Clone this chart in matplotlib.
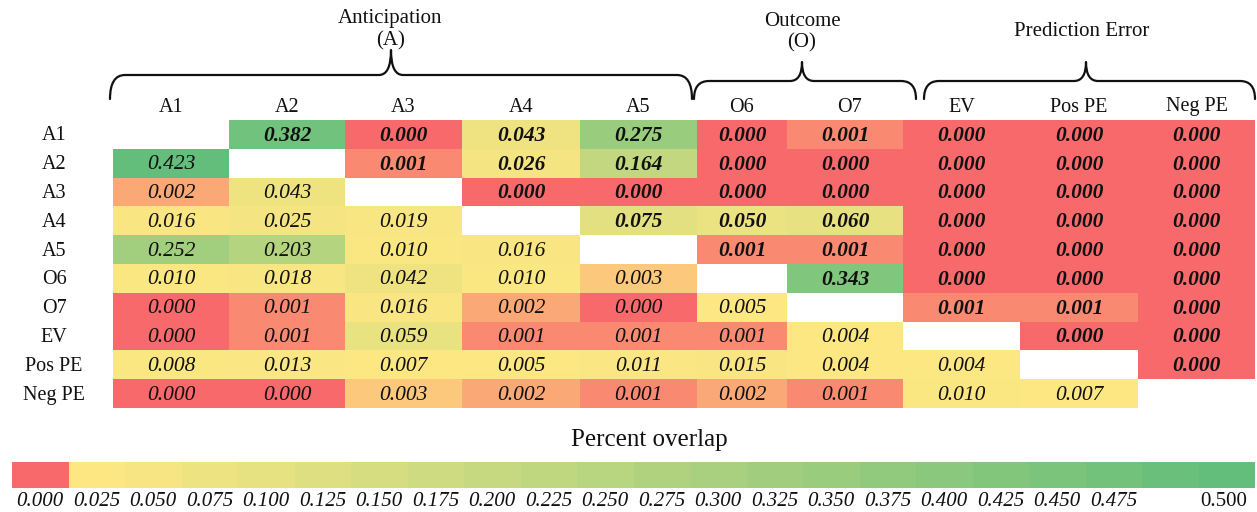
import numpy as np
import matplotlib
matplotlib.use("Agg")
import matplotlib.pyplot as plt
from matplotlib.colors import LinearSegmentedColormap, TwoSlopeNorm
from matplotlib.path import Path
from matplotlib.patches import PathPatch

# ---------------- data ----------------
labels = ["A1", "A2", "A3", "A4", "A5", "O6", "O7", "EV", "Pos PE", "Neg PE"]
nan = np.nan
overlap = np.array([
    [nan, 0.382, 0.000, 0.043, 0.275, 0.000, 0.001, 0.000, 0.000, 0.000],
    [0.423, nan, 0.001, 0.026, 0.164, 0.000, 0.000, 0.000, 0.000, 0.000],
    [0.002, 0.043, nan, 0.000, 0.000, 0.000, 0.000, 0.000, 0.000, 0.000],
    [0.016, 0.025, 0.019, nan, 0.075, 0.050, 0.060, 0.000, 0.000, 0.000],
    [0.252, 0.203, 0.010, 0.016, nan, 0.001, 0.001, 0.000, 0.000, 0.000],
    [0.010, 0.018, 0.042, 0.010, 0.003, nan, 0.343, 0.000, 0.000, 0.000],
    [0.000, 0.001, 0.016, 0.002, 0.000, 0.005, nan, 0.001, 0.001, 0.000],
    [0.000, 0.001, 0.059, 0.001, 0.001, 0.001, 0.004, nan, 0.000, 0.000],
    [0.008, 0.013, 0.007, 0.005, 0.011, 0.015, 0.004, 0.004, nan, 0.000],
    [0.000, 0.000, 0.003, 0.002, 0.001, 0.002, 0.001, 0.010, 0.007, nan],
])
group_names = ["Anticipation", "Outcome", "Prediction Error"]
group_abbr = ["(A)", "(O)", ""]
cb_labels = ["0.000", "0.025", "0.050", "0.075", "0.100", "0.125", "0.150",
             "0.175", "0.200", "0.225", "0.250", "0.275", "0.300", "0.325",
             "0.350", "0.375", "0.400", "0.425", "0.450", "0.475", "", "0.500"]
cb_title = "Percent overlap"

# ---------------- style ----------------
RED, YEL, GRN = "#F8696B", "#FDE782", "#63BE7B"
cmap = LinearSegmentedColormap.from_list("ryg", [RED, YEL, GRN])
cmap.set_bad("white")
norm = TwoSlopeNorm(vmin=0.0, vcenter=0.004, vmax=0.423)
yg = LinearSegmentedColormap.from_list("yg", [YEL, GRN])

plt.rcParams["font.family"] = ["Liberation Serif", "DejaVu Serif"]

W, H = 1257, 512
fig = plt.figure(figsize=(W / 100, H / 100), dpi=100)

def fx(px):
    return px / W

def fy(py):
    return 1 - py / H

# heatmap axes (pixel layout)
hm_left, hm_right, hm_top, hm_bot = 113, 1255, 120, 408
ax = fig.add_axes([fx(hm_left), fy(hm_bot), fx(hm_right - hm_left), (hm_bot - hm_top) / H])
col_w = np.array([116, 116, 117, 118, 117, 90, 116, 117, 118, 117], dtype=float)
xe = np.concatenate([[0], np.cumsum(col_w)])
ye = np.arange(len(labels) + 1)
ax.pcolormesh(xe, ye, np.ma.masked_invalid(overlap), cmap=cmap, norm=norm, shading="flat")
ax.set_xlim(xe[0], xe[-1])
ax.set_ylim(len(labels), 0)
ax.axis("off")
xc = (xe[:-1] + xe[1:]) / 2
n = len(labels)
for i in range(n):
    for j in range(n):
        v = overlap[i, j]
        if np.isnan(v):
            continue
        ax.text(xc[j], i + 0.55, f"{v:.3f}", ha="center", va="center",
                fontsize=15.5, style="italic",
                fontweight="bold" if j > i else "normal", color="#111111")
row_px = (hm_bot - hm_top) / n
for i, lab in enumerate(labels):
    ax.text(54 - hm_left, i + 0.55, lab, ha="center", va="center", fontsize=14.5,
            color="#111111", clip_on=False)
    ax.text(xc[i] + (5 if lab == "O7" else 0), -13 / row_px, lab, ha="center",
            va="center", fontsize=14.5, color="#111111", clip_on=False)

# overlay axes in pixel coordinates for braces
ov = fig.add_axes([0, 0, 1, 1])
ov.set_xlim(0, W)
ov.set_ylim(H, 0)
ov.axis("off")

def brace(x0, x1, xm, y_end, y_h, y_tip, r=15, rt=12):
    verts = [(x0, y_end), (x0, y_h), (x0 + r, y_h),
             (xm - rt, y_h),
             (xm, y_h), (xm, y_tip),
             (xm, y_h), (xm + rt, y_h),
             (x1 - r, y_h),
             (x1, y_h), (x1, y_end)]
    codes = [Path.MOVETO, Path.CURVE3, Path.CURVE3,
             Path.LINETO,
             Path.CURVE3, Path.CURVE3,
             Path.CURVE3, Path.CURVE3,
             Path.LINETO,
             Path.CURVE3, Path.CURVE3]
    ov.add_patch(PathPatch(Path(verts, codes), fill=False, lw=1.6, color="#111111",
                           capstyle="round", joinstyle="round"))

brace(110, 692, 391, 99, 75, 50)
brace(694, 916, 802, 99, 81, 62)
brace(924, 1255, 1086, 99, 81, 62)
ov.text(390, 18, group_names[0], ha="center", va="center", fontsize=15, color="#111111")
ov.text(391, 41, group_abbr[0], ha="center", va="center", fontsize=15, color="#111111")
ov.text(802, 21, group_names[1], ha="center", va="center", fontsize=15, color="#111111")
ov.text(802, 43, group_abbr[1], ha="center", va="center", fontsize=15, color="#111111")
ov.text(1082, 32, group_names[2], ha="center", va="center", fontsize=15, color="#111111")

# colorbar
cb_left, cb_right, cb_top, cb_bot = 12, 1255, 462, 488
cax = fig.add_axes([fx(cb_left), fy(cb_bot), fx(cb_right - cb_left), (cb_bot - cb_top) / H])
nb = len(cb_labels)
bx = np.arange(nb)
bcolors = [RED] + [yg(k / (nb - 2)) for k in range(nb - 1)]
cax.bar(bx, np.ones(nb), width=1.0, color=bcolors, align="center", linewidth=0)
cax.set_xlim(-0.5, nb - 0.5)
cax.set_ylim(0, 1)
cax.axis("off")
for k, lab in enumerate(cb_labels):
    if not lab:
        continue
    last = k == nb - 1
    cax.text(k - (0.05 if last else 0), -0.5, lab, ha="center", va="center",
             fontsize=15, style="normal" if last else "italic", color="#111111",
             clip_on=False)
ov.text(649, 440, cb_title, ha="center", va="center", fontsize=18, color="#111111")

fig.savefig("out.png", dpi=100)
